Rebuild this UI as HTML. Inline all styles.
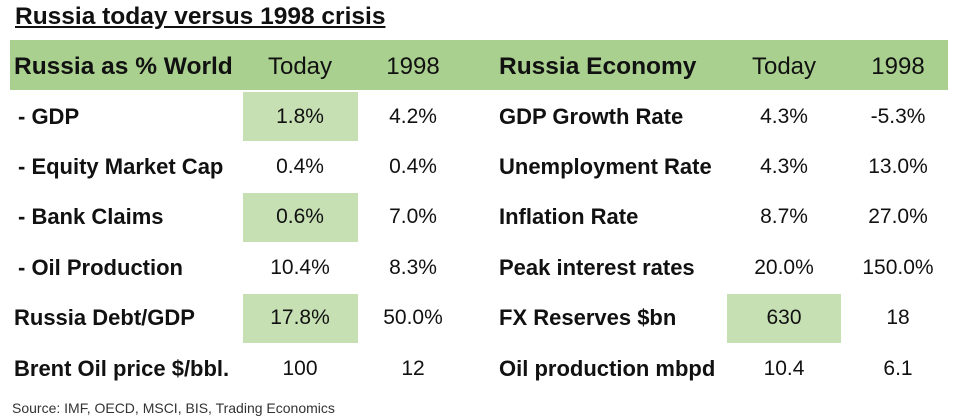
<!DOCTYPE html>
<html><head><style>
body{margin:0;width:959px;height:420px;background:#fff;position:relative;overflow:hidden;font-family:"Liberation Sans",sans-serif;color:#111}
.a{position:absolute;white-space:nowrap}
.t{left:15px;top:3px;font-size:24.5px;font-weight:bold;text-decoration:underline}
.hdr{position:absolute;left:10px;top:40px;width:938px;height:50px;background:#a9d08e}
.hl{position:absolute;background:#c6e0b4;width:115px;height:49px}
.l{font-size:22px;font-weight:bold;transform:translateY(-50%)}
.h{font-size:24.5px}
.c{font-size:21px;transform:translate(-50%,-50%)}
.c.h{font-size:24px}
.src{left:12px;top:400px;font-size:14px;color:#333}
</style></head><body>
<div class="a t">Russia today versus 1998 crisis</div>
<div class="hdr"></div>
<div class="hl" style="left:243px;top:92px"></div>
<div class="hl" style="left:243px;top:193px"></div>
<div class="hl" style="left:243px;top:294px"></div>
<div class="hl" style="left:727px;top:294px;width:114px"></div>

<div class="a l h" style="left:14px;top:67px">Russia as % World</div>
<div class="a c h" style="left:300px;top:67px">Today</div>
<div class="a c h" style="left:413px;top:67px">1998</div>
<div class="a l h" style="left:499px;top:67px">Russia Economy</div>
<div class="a c h" style="left:784px;top:67px">Today</div>
<div class="a c h" style="left:898px;top:67px">1998</div>

<div class="a l" style="left:18px;top:117px">- GDP</div>
<div class="a c" style="left:300px;top:117px">1.8%</div>
<div class="a c" style="left:413px;top:117px">4.2%</div>
<div class="a l" style="left:499px;top:117px">GDP Growth Rate</div>
<div class="a c" style="left:784px;top:117px">4.3%</div>
<div class="a c" style="left:898px;top:117px">-5.3%</div>

<div class="a l" style="left:18px;top:167px">- Equity Market Cap</div>
<div class="a c" style="left:300px;top:167px">0.4%</div>
<div class="a c" style="left:413px;top:167px">0.4%</div>
<div class="a l" style="left:499px;top:167px">Unemployment Rate</div>
<div class="a c" style="left:784px;top:167px">4.3%</div>
<div class="a c" style="left:898px;top:167px">13.0%</div>

<div class="a l" style="left:18px;top:217px">- Bank Claims</div>
<div class="a c" style="left:300px;top:217px">0.6%</div>
<div class="a c" style="left:413px;top:217px">7.0%</div>
<div class="a l" style="left:499px;top:217px">Inflation Rate</div>
<div class="a c" style="left:784px;top:217px">8.7%</div>
<div class="a c" style="left:898px;top:217px">27.0%</div>

<div class="a l" style="left:18px;top:268px">- Oil Production</div>
<div class="a c" style="left:300px;top:268px">10.4%</div>
<div class="a c" style="left:413px;top:268px">8.3%</div>
<div class="a l" style="left:499px;top:268px">Peak interest rates</div>
<div class="a c" style="left:784px;top:268px">20.0%</div>
<div class="a c" style="left:898px;top:268px">150.0%</div>

<div class="a l" style="left:14px;top:318px">Russia Debt/GDP</div>
<div class="a c" style="left:300px;top:318px">17.8%</div>
<div class="a c" style="left:413px;top:318px">50.0%</div>
<div class="a l" style="left:499px;top:318px">FX Reserves $bn</div>
<div class="a c" style="left:784px;top:318px">630</div>
<div class="a c" style="left:898px;top:318px">18</div>

<div class="a l" style="left:14px;top:369px">Brent Oil price $/bbl.</div>
<div class="a c" style="left:300px;top:369px">100</div>
<div class="a c" style="left:413px;top:369px">12</div>
<div class="a l" style="left:499px;top:369px">Oil production mbpd</div>
<div class="a c" style="left:784px;top:369px">10.4</div>
<div class="a c" style="left:898px;top:369px">6.1</div>

<div class="a src">Source: IMF, OECD, MSCI, BIS, Trading Economics</div>
</body></html>
